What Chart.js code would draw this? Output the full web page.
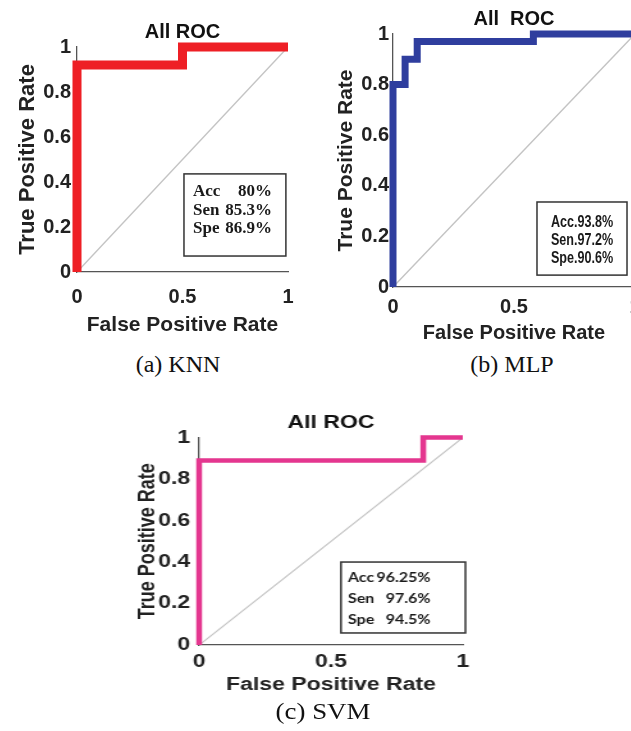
<!DOCTYPE html>
<html>
<head>
<meta charset="utf-8">
<script src="https://cdn.jsdelivr.net/npm/chart.js@4.4.1/dist/chart.umd.min.js"></script>
<style>
  html, body { margin: 0; padding: 0; background: #fff; overflow: hidden; width: 631px; height: 731px; }
  .panel { position: absolute; }
  .cap { position: absolute; font-family: "Liberation Serif", "Times New Roman", serif; font-size: 24px; color: #111; transform: translateX(-50%); white-space: nowrap; }
</style>
</head>
<body>
<div class="panel" style="left:0;top:0;width:300px;height:345px"><canvas id="knn"></canvas></div>
<div class="panel" style="left:310px;top:0;width:350px;height:350px"><canvas id="mlp"></canvas></div>
<div class="panel" style="left:130px;top:400px;width:275px;height:300px;transform:scaleX(1.28);transform-origin:0 0"><canvas id="svm"></canvas></div>
<div class="cap" style="left:178px;top:351px">(a) KNN</div>
<div class="cap" style="left:512px;top:351px">(b) MLP</div>
<div class="cap" style="left:323px;top:698px;transform:translateX(-50%) scaleX(1.12)">(c) SVM</div>

<script>
// ROC curves (false positive rate / true positive rate)
const knnFpr = [0, 0, 0.5, 0.5, 1];
const knnTpr = [0, 0.92, 0.92, 1, 1];

const mlpFpr = [0, 0, 0.05, 0.05, 0.1, 0.1, 0.58, 0.58, 1];
const mlpTpr = [0, 0.8, 0.8, 0.9, 0.9, 0.97, 0.97, 1, 1];

const svmFpr = [0, 0, 0.85, 0.85, 1];
const svmTpr = [0, 0.89, 0.89, 1, 1];

// chance diagonal
const chanceFpr = [0, 1];
const chanceTpr = [0, 1];

// axis ticks
const xTickStep = 0.5;
const yTickStep = 0.2;

// text in the boxes
const statLabels = ['Acc', 'Sen', 'Spe'];
const knnStats = ['80%', '85.3%', '86.9%'];
const mlpStats = ['93.8%', '97.2%', '90.6%'];
const svmStats = ['96.25%', '97.6%', '94.5%'];

Chart.defaults.font.family = '"Liberation Sans", Arial, sans-serif';
Chart.defaults.color = '#222';

function toPoints(xs, ys) {
  return xs.map((x, i) => ({ x: x, y: ys[i] }));
}

// draws the framed Acc/Sen/Spe box inside the plot
function statBox(box) {
  return {
    id: 'statBox',
    afterDatasetsDraw(chart) {
      const ctx = chart.ctx;
      const x = chart.scales.x, y = chart.scales.y;
      const left = x.getPixelForValue(box.x0);
      const right = x.getPixelForValue(box.x1);
      const top = y.getPixelForValue(box.y1);
      const bottom = y.getPixelForValue(box.y0);
      ctx.save();
      ctx.fillStyle = '#fff';
      ctx.fillRect(left, top, right - left, bottom - top);
      ctx.strokeStyle = '#333';
      ctx.lineWidth = 1.5;
      ctx.strokeRect(left, top, right - left, bottom - top);
      ctx.font = box.font;
      ctx.fillStyle = '#1a1a1a';
      ctx.textBaseline = 'middle';
      const sq = box.squeeze || 1;
      box.labels.forEach((lab, i) => {
        const ty = top + box.first + i * box.gap;
        if (box.centered) {
          const cx = (left + right) / 2;
          ctx.save();
          ctx.translate(cx, ty);
          ctx.scale(sq, 1);
          ctx.textAlign = 'center';
          ctx.fillText(lab + box.sep + box.values[i], 0, 0);
          ctx.restore();
        } else {
          ctx.textAlign = 'left';
          ctx.fillText(lab, left + box.padL, ty);
          ctx.textAlign = 'right';
          ctx.fillText(box.values[i], left + box.valueRight, ty);
        }
      });
      ctx.restore();
    }
  };
}

const tickText = (v) => String(Math.round(v * 10) / 10);

function rocChart(id, fpr, tpr, colour, look, box) {
  const bold = (size) => ({ size: size, weight: 'bold' });
  return new Chart(document.getElementById(id), {
    type: 'line',
    data: {
      datasets: [{
        data: toPoints(fpr, tpr),
        borderColor: colour,
        borderWidth: look.lineW,
        borderJoinStyle: 'miter',
        pointRadius: 0,
        tension: 0,
        clip: 12
      }, {
        data: toPoints(chanceFpr, chanceTpr),
        borderColor: '#c4c4c4',
        borderWidth: look.diagW,
        pointRadius: 0
      }]
    },
    options: {
      responsive: true,
      maintainAspectRatio: false,
      animation: false,
      events: [],
      layout: { padding: { left: 0, right: look.padRight, top: 0, bottom: 0 } },
      plugins: {
        legend: { display: false },
        tooltip: { enabled: false },
        title: {
          display: true,
          text: look.title,
          fullSize: false,
          color: '#111',
          font: bold(look.titleSize),
          padding: look.titlePad
        }
      },
      scales: {
        x: {
          type: 'linear',
          min: 0, max: 1,
          afterFit: (s) => { s.height = look.xAxisH; s.paddingLeft = 0; s.paddingRight = 0; },
          grid: { display: false, drawTicks: false },
          border: { display: true, color: '#555', width: 1.3 },
          ticks: { stepSize: xTickStep, padding: look.xTickPad, font: bold(look.tickSize), maxRotation: 0, callback: tickText },
          title: { display: true, text: 'False Positive Rate', color: '#222', font: bold(look.xTitleSize), padding: { top: 0, bottom: look.xTitlePad } }
        },
        y: {
          type: 'linear',
          min: 0, max: 1,
          afterFit: (s) => { s.width = look.yAxisW; s.paddingTop = 0; s.paddingBottom = 0; },
          grid: { display: false, drawTicks: false },
          border: { display: true, color: '#555', width: 1.3 },
          ticks: { stepSize: yTickStep, padding: look.yTickPad, font: bold(look.tickSize), callback: tickText },
          title: { display: true, text: 'True Positive Rate', color: '#222', font: bold(look.yTitleSize), padding: { top: look.yTitlePad, bottom: 0 } }
        }
      }
    },
    plugins: [statBox(box)]
  });
}

rocChart('knn', knnFpr, knnTpr, '#ee1f25', {
  title: 'All ROC', titleSize: 20, titlePad: { top: 20, bottom: 3 },
  lineW: 9, diagW: 1.5, padRight: 12,
  yAxisW: 77, xAxisH: 73, tickSize: 20, yTickPad: 6, xTickPad: 13,
  yTitleSize: 22, yTitlePad: 15, xTitleSize: 21, xTitlePad: 7
}, {
  x0: 0.507, x1: 0.99, y0: 0.071, y1: 0.436,
  labels: statLabels, values: knnStats,
  font: 'bold 17px "Liberation Serif", "Times New Roman", serif',
  first: 18, gap: 18.5, padL: 9, valueRight: 88
});

rocChart('mlp', mlpFpr, mlpTpr, '#2f3e9e', {
  title: 'All  ROC', titleSize: 20, titlePad: { top: 7, bottom: 3 },
  lineW: 7, diagW: 1.5, padRight: 25,
  yAxisW: 83, xAxisH: 63, tickSize: 20, yTickPad: 4, xTickPad: 8,
  yTitleSize: 21, yTitlePad: 24, xTitleSize: 20, xTitlePad: 5
}, {
  x0: 0.595, x1: 0.967, y0: 0.047, y1: 0.336,
  labels: statLabels, values: mlpStats, centered: true, sep: '.', squeeze: 0.74,
  font: 'bold 17px "Liberation Sans", Arial, sans-serif',
  first: 20, gap: 18
});

rocChart('svm', svmFpr, svmTpr, '#e4368f', {
  title: 'All ROC', titleSize: 18, titlePad: { top: 12, bottom: 4 },
  lineW: 4.5, diagW: 1.2, padRight: 15,
  yAxisW: 54, xAxisH: 55, tickSize: 18, yTickPad: 7, xTickPad: 6,
  yTitleSize: 18, yTitlePad: 3, xTitleSize: 18, xTitlePad: 4
}, {
  x0: 0.538, x1: 1.01, y0: 0.058, y1: 0.40,
  labels: statLabels, values: svmStats,
  font: 'bold 12.5px Lato, "Liberation Sans", sans-serif',
  first: 16, gap: 21, padL: 5.5, valueRight: 70
});
</script>
</body>
</html>
